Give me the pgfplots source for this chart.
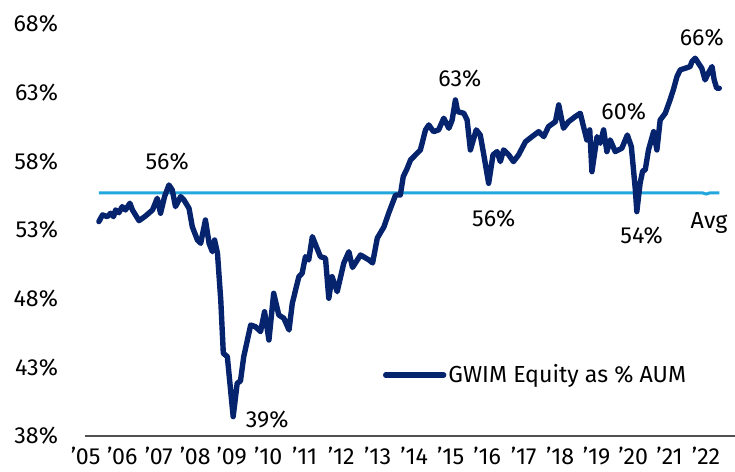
\documentclass[border=0pt]{standalone}
\usepackage{fontspec}
\setmainfont{Fira Sans}
\usepackage{pgfplots}
\pgfplotsset{compat=1.18}
\definecolor{navy}{RGB}{6,36,110}
\definecolor{avgblue}{RGB}{33,166,222}
\definecolor{axgray}{RGB}{80,80,80}
\pgfplotstableread{
yr val
2005.36 53.61
2005.46 54.10
2005.59 53.97
2005.68 54.22
2005.76 53.97
2005.82 54.46
2005.91 54.26
2006.00 54.70
2006.09 54.46
2006.21 54.95
2006.28 54.46
2006.46 53.68
2006.64 54.02
2006.83 54.46
2006.96 55.31
2007.05 54.22
2007.16 55.43
2007.28 56.28
2007.37 55.92
2007.46 54.70
2007.60 55.43
2007.69 55.19
2007.83 54.58
2007.92 53.24
2008.06 52.27
2008.15 52.03
2008.28 53.73
2008.38 52.03
2008.47 51.42
2008.53 52.27
2008.61 51.31
2008.70 47.90
2008.77 44.02
2008.88 43.78
2009.04 39.41
2009.15 41.84
2009.24 42.01
2009.33 43.78
2009.43 44.99
2009.52 46.08
2009.65 45.96
2009.79 45.60
2009.90 47.05
2010.02 44.99
2010.15 48.39
2010.29 46.81
2010.43 46.57
2010.57 45.72
2010.66 47.66
2010.84 49.60
2010.93 49.85
2011.02 51.06
2011.11 50.82
2011.21 52.52
2011.43 51.06
2011.57 50.94
2011.66 48.03
2011.75 49.60
2011.89 48.51
2012.07 50.58
2012.21 51.42
2012.31 50.27
2012.53 51.18
2012.76 50.82
2012.86 50.60
2012.99 52.42
2013.17 53.22
2013.30 54.22
2013.49 55.55
2013.62 55.55
2013.70 56.88
2013.81 57.50
2013.90 58.10
2014.17 58.83
2014.31 60.29
2014.40 60.65
2014.53 60.16
2014.67 60.29
2014.81 61.14
2014.95 60.41
2015.04 61.01
2015.13 62.47
2015.19 61.62
2015.36 61.50
2015.45 61.01
2015.54 58.83
2015.70 60.29
2015.81 59.92
2015.90 58.59
2016.04 56.40
2016.16 58.47
2016.27 58.71
2016.36 57.98
2016.45 58.83
2016.59 58.47
2016.72 57.98
2016.86 58.47
2017.05 59.43
2017.23 59.80
2017.41 60.16
2017.55 59.80
2017.68 60.53
2017.87 60.89
2017.96 62.11
2018.09 60.41
2018.23 60.89
2018.41 61.25
2018.55 61.50
2018.64 60.53
2018.73 59.56
2018.81 60.29
2018.87 57.25
2019.01 59.80
2019.10 59.32
2019.19 60.29
2019.28 58.71
2019.37 59.56
2019.51 58.71
2019.69 58.95
2019.84 59.92
2019.95 59.07
2020.06 55.92
2020.10 54.34
2020.19 56.40
2020.26 57.30
2020.33 57.37
2020.42 58.83
2020.56 60.16
2020.65 58.83
2020.74 61.01
2020.88 61.50
2021.01 62.47
2021.10 63.20
2021.20 64.17
2021.29 64.66
2021.43 64.78
2021.56 64.90
2021.61 65.26
2021.70 65.51
2021.79 65.14
2021.88 64.78
2021.97 63.93
2022.06 64.42
2022.16 64.90
2022.22 63.93
2022.29 63.32
2022.36 63.32
}\equitydata
\pgfplotstableread{
yr val
2005.36 55.70
2021.90 55.70
2022.00 55.62
2022.10 55.70
2022.36 55.70
}\avgdata
\begin{document}
\begin{tikzpicture}[font=\fontsize{11.6pt}{14pt}\selectfont]
\path[use as bounding box] (-42.5pt,-18pt) rectangle (325pt,218pt);
\begin{axis}[
  at={(0,0)}, anchor=south west, scale only axis,
  width=325pt, height=206pt,
  xmin=2004.98, xmax=2022.79, ymin=38, ymax=68,
  axis x line*=bottom, axis y line*=left,
  y axis line style={draw=none},
  x axis line style={axgray, line width=1pt, -},
  major tick length=0pt,
  xtick={2005,...,2022},
  xticklabels={'05,'06,'07,'08,'09,'10,'11,'12,'13,'14,'15,'16,'17,'18,'19,'20,'21,'22},
  ytick={38,43,...,68},
  yticklabel={\pgfmathprintnumber{\tick}\%},
  /pgf/number format/assume math mode=true,
  yticklabel style={xshift=-10pt},
  xticklabel style={yshift=-2pt},
  tick label style={text=black},
  clip=false,
  legend style={at={(0.4585,0.148)}, anchor=west, draw=none, fill=none,
    inner sep=0pt, outer sep=0pt, nodes={inner sep=1pt, text=black}},
  legend image code/.code={\draw[#1] (0pt,0pt) -- (29pt,0pt);},
]
\addplot[avgblue, line width=1.5pt, forget plot] table[x=yr,y=val] {\avgdata};
\addplot[navy, line width=2.7pt, line join=round, line cap=round] table[x=yr,y=val] {\equitydata};
\addlegendentry{GWIM Equity as \% AUM}
\node at (axis cs:2007.23,57.98) {56\%};
\node at (axis cs:2009.97,39.17) {39\%};
\node at (axis cs:2015.25,64.0) {63\%};
\node at (axis cs:2016.18,53.8) {56\%};
\node at (axis cs:2019.74,61.6) {60\%};
\node at (axis cs:2020.23,52.57) {54\%};
\node at (axis cs:2021.88,67.02) {66\%};
\node at (axis cs:2022.08,53.51) {Avg};
\end{axis}
\end{tikzpicture}
\end{document}
